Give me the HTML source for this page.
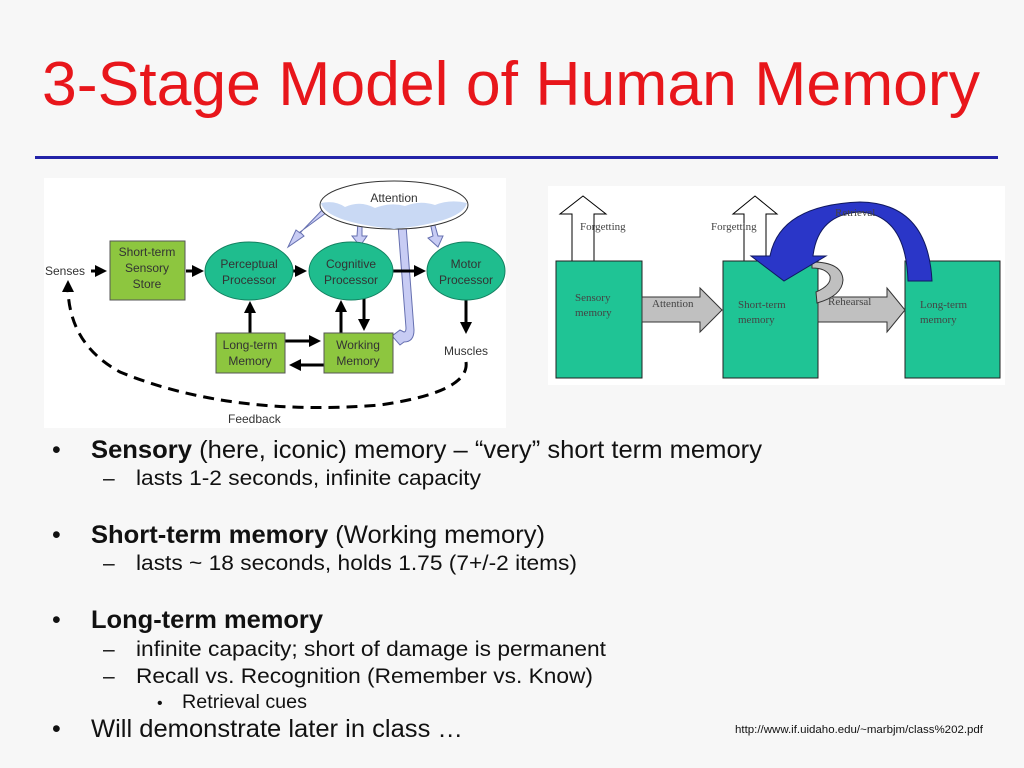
<!DOCTYPE html>
<html><head><style>
body{margin:0;background:#f7f7f7;}
svg{display:block;font-family:"Liberation Sans",sans-serif;}
</style></head><body>
<svg width="1024" height="768" viewBox="0 0 1024 768" xmlns="http://www.w3.org/2000/svg">
<defs>
<marker id="ah" markerWidth="4" markerHeight="4" refX="3" refY="2" orient="auto" markerUnits="strokeWidth"><path d="M0,0 L4,2 L0,4 z" fill="#000"/></marker>
</defs>
<rect width="1024" height="768" fill="#f7f7f7"/>
<text x="42" y="105" font-size="62" fill="#e8161b" textLength="938" lengthAdjust="spacingAndGlyphs">3-Stage Model of Human Memory</text>
<rect x="35" y="156" width="963" height="3" fill="#2323a8"/>

<!-- LEFT DIAGRAM -->
<rect x="44" y="178" width="462" height="250" fill="#fff"/>
<g font-size="12" fill="#333">
<text x="45" y="275">Senses</text>
<text x="444" y="355">Muscles</text>
<text x="228" y="423">Feedback</text>
</g>
<g fill="#c8ccf4" stroke="#6670b0" stroke-width="1">
<path d="M330,210 L300,232 L304,236 L288,247 L296,230 L300,233 L326,206 z"/>
<path d="M358,222 L362,222 L362,236 L367,236 L360,246 L352,236 L357,236 z"/>
<path d="M430,222 L434,222 L438,236 L443,236 L438,247 L428,238 L433,236 z"/>
<path d="M398,225 L406,225 L414,330 Q414,342 404,342 L400,345 L392,336 L400,330 L404,332 Q406,332 406,328 z"/>
</g>
<ellipse cx="394" cy="205" rx="74" ry="24" fill="#fff" stroke="#333" stroke-width="1"/>
<path d="M321,203 Q335,200 345,207 Q360,200 375,208 Q390,202 405,206 Q420,200 435,205 Q450,199 467,203 Q462,222 394,229 Q326,222 321,203 z" fill="#c9d9f4"/>
<text x="394" y="202" font-size="12" text-anchor="middle" fill="#333">Attention</text>

<g stroke="#000" stroke-width="3" fill="none" marker-end="url(#ah)">
<line x1="91" y1="271" x2="104" y2="271"/>
<line x1="186" y1="271" x2="201" y2="271"/>
<line x1="293" y1="271" x2="304" y2="271"/>
<line x1="393" y1="271" x2="423" y2="271"/>
<line x1="250" y1="333" x2="250" y2="304"/>
<line x1="341" y1="333" x2="341" y2="303"/>
<line x1="364" y1="298" x2="364" y2="328"/>
<line x1="285" y1="341" x2="318" y2="341"/>
<line x1="324" y1="365" x2="292" y2="365"/>
<line x1="466" y1="300" x2="466" y2="331"/>
</g>
<path d="M466,362 Q470,392 380,405 Q230,417 120,372 Q70,345 68,290" stroke="#000" stroke-width="3" fill="none" stroke-dasharray="11,7"/>
<path d="M62,292 L68,280 L74,292 z" fill="#000"/>

<rect x="110" y="241" width="75" height="59" fill="#8dc63f" stroke="#555"/>
<g font-size="12" fill="#333" text-anchor="middle">
<text x="147" y="256">Short-term</text><text x="147" y="272">Sensory</text><text x="147" y="288">Store</text>
</g>
<g fill="#1fbd8e" stroke="#138060">
<ellipse cx="249" cy="271" rx="44" ry="29"/>
<ellipse cx="351" cy="271" rx="42" ry="29"/>
<ellipse cx="466" cy="271" rx="39" ry="29"/>
</g>
<g font-size="12" fill="#333" text-anchor="middle">
<text x="249" y="268">Perceptual</text><text x="249" y="284">Processor</text>
<text x="351" y="268">Cognitive</text><text x="351" y="284">Processor</text>
<text x="466" y="268">Motor</text><text x="466" y="284">Processor</text>
</g>
<rect x="216" y="333" width="69" height="40" fill="#8dc63f" stroke="#555"/>
<rect x="324" y="333" width="69" height="40" fill="#8dc63f" stroke="#555"/>
<g font-size="12" fill="#333" text-anchor="middle">
<text x="250" y="349">Long-term</text><text x="250" y="365">Memory</text>
<text x="358" y="349">Working</text><text x="358" y="365">Memory</text>
</g>

<!-- RIGHT DIAGRAM -->
<rect x="548" y="186" width="457" height="199" fill="#fff"/>
<g fill="#fff" stroke="#000" stroke-width="1">
<path d="M572,262 L572,214 L560,214 L583,196 L606,214 L594,214 L594,262 z"/>
<path d="M744,262 L744,214 L733,214 L755,196 L777,214 L766,214 L766,262 z"/>
</g>
<g fill="#1fc495" stroke="#222" stroke-width="1">
<rect x="556" y="261" width="86" height="117"/>
<rect x="723" y="261" width="95" height="117"/>
<rect x="905" y="261" width="95" height="117"/>
</g>
<g fill="#c0c0c0" stroke="#333" stroke-width="1">
<path d="M642,297 L700,297 L700,288 L722,310 L700,332 L700,322 L642,322 z"/>
<path d="M818,297 L887,297 L887,288 L905,310 L887,332 L887,322 L818,322 z"/>
<path d="M812,262 Q842,262 843,280 Q842,296 817,303 L816,292 Q832,285 830,276 Q826,268 812,268 z"/>
</g>
<path d="M908,281 Q906,215 860,212 Q818,214 813,256 L826,256 L784,281 L751,256 L770,256 Q780,205 860,202 Q928,203 932,281 z" fill="#2a36c8" stroke="#101860" stroke-width="1"/>
<g font-family="Liberation Serif,serif" font-size="11" fill="#444">
<text x="580" y="230">Forgetting</text>
<text x="711" y="230">Forgetting</text>
<text x="835" y="216">Retrieval</text>
<text x="575" y="301">Sensory</text><text x="575" y="316">memory</text>
<text x="652" y="307">Attention</text>
<text x="738" y="308">Short-term</text><text x="738" y="323">memory</text>
<text x="828" y="305">Rehearsal</text>
<text x="920" y="308">Long-term</text><text x="920" y="323">memory</text>
</g>

<!-- BULLETS -->
<g fill="#111">
<g font-size="25">
<text x="52" y="458">•</text><text x="91" y="458" textLength="671" lengthAdjust="spacingAndGlyphs"><tspan font-weight="bold">Sensory</tspan> (here, iconic) memory – “very” short term memory</text>
<text x="52" y="543">•</text><text x="91" y="543" textLength="454" lengthAdjust="spacingAndGlyphs"><tspan font-weight="bold">Short-term memory</tspan> (Working memory)</text>
<text x="52" y="628">•</text><text x="91" y="628" font-weight="bold" textLength="232" lengthAdjust="spacingAndGlyphs">Long-term memory</text>
<text x="52" y="737">•</text><text x="91" y="737" textLength="372" lengthAdjust="spacingAndGlyphs">Will demonstrate later in class …</text>
</g>
<g font-size="21">
<text x="103" y="485">–</text><text x="136" y="485" textLength="345" lengthAdjust="spacingAndGlyphs">lasts 1-2 seconds, infinite capacity</text>
<text x="103" y="570">–</text><text x="136" y="570" textLength="441" lengthAdjust="spacingAndGlyphs">lasts ~ 18 seconds, holds 1.75 (7+/-2 items)</text>
<text x="103" y="656">–</text><text x="136" y="656" textLength="470" lengthAdjust="spacingAndGlyphs">infinite capacity; short of damage is permanent</text>
<text x="103" y="683">–</text><text x="136" y="683" textLength="457" lengthAdjust="spacingAndGlyphs">Recall vs. Recognition (Remember vs. Know)</text>
</g>
<text x="157" y="708" font-size="16">•</text><text x="182" y="708" font-size="19" textLength="125" lengthAdjust="spacingAndGlyphs">Retrieval cues</text>
<text x="735" y="733" font-size="11" textLength="248" lengthAdjust="spacingAndGlyphs">http://www.if.uidaho.edu/~marbjm/class%202.pdf</text>
</g>
</svg>
</body></html>
